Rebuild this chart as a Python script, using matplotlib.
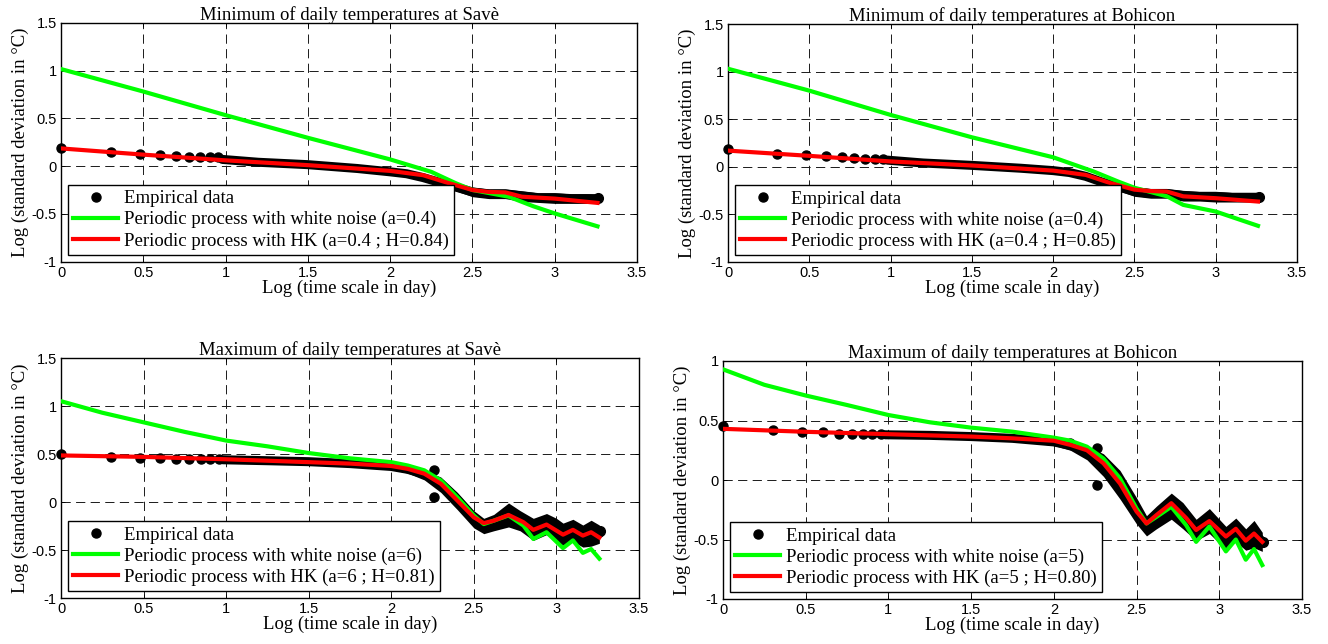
import matplotlib
matplotlib.use("Agg")
import matplotlib.pyplot as plt

plt.rcParams['axes.unicode_minus'] = False

# ---------------- data (x = log10 of time scale in days) ----------------
titles = ["Minimum of daily temperatures at Savè",
          "Minimum of daily temperatures at Bohicon",
          "Maximum of daily temperatures at Savè",
          "Maximum of daily temperatures at Bohicon"]
green_labels = ["Periodic process with white noise (a=0.4)",
                "Periodic process with white noise (a=0.4)",
                "Periodic process with white noise (a=6)",
                "Periodic process with white noise (a=5)"]
red_labels = ["Periodic process with HK (a=0.4 ; H=0.84)",
              "Periodic process with HK (a=0.4 ; H=0.85)",
              "Periodic process with HK (a=6 ; H=0.81)",
              "Periodic process with HK (a=5 ; H=0.80)"]

# sparse empirical points (first scales)
dots_x = [0, 0.301, 0.477, 0.602, 0.699, 0.778, 0.845, 0.903, 0.954]
dots_y_p1 = [0.19, 0.15, 0.13, 0.12, 0.11, 0.10, 0.10, 0.09, 0.09]
dots_y_p2 = [0.19, 0.135, 0.12, 0.11, 0.10, 0.09, 0.085, 0.08, 0.077]
dots_y_p3 = [0.495, 0.465, 0.455, 0.455, 0.45, 0.45, 0.45, 0.45, 0.45]
dots_y_p4 = [0.45, 0.42, 0.405, 0.40, 0.39, 0.39, 0.385, 0.383, 0.383]

# dense empirical band (min panels)
band_x_min = [0.98, 1.2, 1.5, 1.8, 2.0, 2.1, 2.2, 2.3, 2.4, 2.5, 2.6, 2.7, 2.8, 2.9, 3.0, 3.1, 3.2, 3.26]
band_c_p1 = [0.07, 0.04, 0.015, -0.025, -0.06, -0.08, -0.12, -0.17, -0.22, -0.27, -0.29, -0.29, -0.31, -0.33, -0.33, -0.34, -0.34, -0.34]
band_hi_p1 = [0.09, 0.06, 0.035, -0.005, -0.04, -0.05, -0.09, -0.14, -0.19, -0.22, -0.24, -0.24, -0.26, -0.28, -0.28, -0.29, -0.29, -0.30]
band_lo_p1 = [0.05, 0.02, -0.005, -0.045, -0.08, -0.11, -0.15, -0.20, -0.26, -0.32, -0.34, -0.34, -0.37, -0.38, -0.39, -0.39, -0.39, -0.39]
band_c_p2 = [0.07, 0.04, 0.015, -0.015, -0.04, -0.06, -0.10, -0.16, -0.21, -0.26, -0.28, -0.28, -0.30, -0.31, -0.31, -0.32, -0.32, -0.32]
band_hi_p2 = [0.09, 0.06, 0.035, 0.005, -0.02, -0.03, -0.07, -0.13, -0.18, -0.21, -0.23, -0.23, -0.25, -0.26, -0.26, -0.27, -0.27, -0.28]
band_lo_p2 = [0.05, 0.02, -0.005, -0.035, -0.06, -0.09, -0.13, -0.19, -0.25, -0.31, -0.33, -0.33, -0.36, -0.36, -0.37, -0.37, -0.37, -0.37]

# dense empirical band (max panels)
band_x_max = [0.98, 1.25, 1.5, 1.75, 2.0, 2.1, 2.2, 2.3, 2.4, 2.5, 2.56, 2.62, 2.71, 2.78, 2.86, 2.94, 3.0, 3.04, 3.1, 3.16, 3.21, 3.26]
band_c_p3 = [0.44, 0.43, 0.42, 0.40, 0.37, 0.34, 0.29, 0.19, 0.02, -0.17, -0.25, -0.22, -0.14, -0.20, -0.30, -0.24, -0.30, -0.35, -0.30, -0.36, -0.32, -0.33]
band_hi_p3 = [0.46, 0.45, 0.44, 0.43, 0.40, 0.37, 0.33, 0.26, 0.10, -0.09, -0.17, -0.13, -0.01, -0.09, -0.17, -0.12, -0.17, -0.22, -0.18, -0.24, -0.19, -0.24]
band_lo_p3 = [0.42, 0.41, 0.40, 0.38, 0.34, 0.30, 0.23, 0.10, -0.08, -0.27, -0.33, -0.30, -0.26, -0.30, -0.40, -0.34, -0.41, -0.45, -0.41, -0.47, -0.46, -0.43]
band_c_p4 = [0.38, 0.375, 0.365, 0.35, 0.32, 0.29, 0.24, 0.13, -0.04, -0.27, -0.38, -0.31, -0.20, -0.31, -0.43, -0.34, -0.43, -0.48, -0.40, -0.50, -0.44, -0.52]
band_hi_p4 = [0.40, 0.395, 0.385, 0.37, 0.345, 0.32, 0.29, 0.22, 0.08, -0.15, -0.30, -0.22, -0.11, -0.19, -0.33, -0.24, -0.33, -0.39, -0.32, -0.41, -0.34, -0.44]
band_lo_p4 = [0.36, 0.355, 0.345, 0.33, 0.29, 0.25, 0.17, 0.03, -0.16, -0.37, -0.47, -0.41, -0.33, -0.41, -0.51, -0.45, -0.53, -0.58, -0.52, -0.59, -0.57, -0.60]

# isolated empirical points
out_x_p3 = [2.26, 2.26]
out_y_p3 = [0.33, 0.055]
out_x_p4 = [2.1, 2.26, 2.26]
out_y_p4 = [0.31, 0.265, -0.04]
end_x = [3.265]
end_y_p1 = [-0.33]
end_y_p2 = [-0.32]
end_y_p3 = [-0.30]
end_y_p4 = [-0.52]

# white-noise model (green)
green_x_min1 = [0, 0.5, 1, 1.5, 2, 2.25, 2.4, 2.5, 2.72, 2.87, 3, 3.26]
green_y_p1 = [1.015, 0.78, 0.533, 0.296, 0.07, -0.06, -0.18, -0.25, -0.32, -0.42, -0.495, -0.63]
green_x_min2 = [0, 0.5, 1, 1.5, 2, 2.25, 2.4, 2.5, 2.7, 2.8, 3, 3.26]
green_y_p2 = [1.03, 0.80, 0.545, 0.31, 0.10, -0.05, -0.155, -0.22, -0.31, -0.40, -0.47, -0.62]
green_x_max = [0, 0.25, 0.5, 0.75, 1, 1.25, 1.5, 1.75, 2, 2.1, 2.2, 2.3, 2.4, 2.5, 2.56, 2.62, 2.71, 2.8, 2.86, 2.94, 3.04, 3.1, 3.16, 3.21, 3.26]
green_y_p3 = [1.05, 0.93, 0.83, 0.73, 0.64, 0.58, 0.51, 0.455, 0.415, 0.38, 0.33, 0.225, 0.05, -0.14, -0.23, -0.195, -0.14, -0.245, -0.385, -0.315, -0.48, -0.40, -0.53, -0.49, -0.59]
green_y_p4 = [0.93, 0.80, 0.71, 0.63, 0.546, 0.485, 0.44, 0.406, 0.356, 0.33, 0.28, 0.18, 0.014, -0.24, -0.365, -0.31, -0.225, -0.38, -0.52, -0.39, -0.60, -0.50, -0.67, -0.58, -0.715]

# HK model (red)
red_x_min = [0, 0.5, 1, 1.5, 2, 2.2, 2.35, 2.5, 2.6, 2.7, 2.8, 3, 3.26]
red_y_p1 = [0.185, 0.12, 0.06, 0.01, -0.05, -0.095, -0.175, -0.25, -0.27, -0.275, -0.32, -0.34, -0.385]
red_y_p2 = [0.17, 0.115, 0.056, 0.014, -0.04, -0.085, -0.17, -0.24, -0.255, -0.26, -0.31, -0.33, -0.365]
red_x_max = [0, 0.5, 1, 1.5, 1.75, 2, 2.1, 2.2, 2.3, 2.4, 2.5, 2.56, 2.62, 2.71, 2.8, 2.86, 2.94, 3.04, 3.1, 3.16, 3.21, 3.26]
red_y_p3 = [0.485, 0.47, 0.445, 0.415, 0.40, 0.375, 0.345, 0.295, 0.19, 0.015, -0.16, -0.22, -0.195, -0.135, -0.21, -0.29, -0.235, -0.34, -0.29, -0.35, -0.315, -0.37]
red_y_p4 = [0.43, 0.405, 0.385, 0.365, 0.35, 0.33, 0.295, 0.25, 0.14, -0.03, -0.265, -0.365, -0.295, -0.195, -0.32, -0.42, -0.345, -0.475, -0.41, -0.51, -0.45, -0.52]

x_ticks = [0, 0.5, 1, 1.5, 2, 2.5, 3, 3.5]
y_ticks_a = [-1, -0.5, 0, 0.5, 1, 1.5]
y_ticks_b = [-1, -0.5, 0, 0.5, 1]

panels = [
    dict(dots=dots_y_p1, bx=band_x_min, bc=band_c_p1, bh=band_hi_p1, bl=band_lo_p1,
         ox=[], oy=[], ey=end_y_p1, gx=green_x_min1, gy=green_y_p1, rx=red_x_min, ry=red_y_p1,
         yt=y_ticks_a, rect=[61, 22.7, 576, 239]),
    dict(dots=dots_y_p2, bx=band_x_min, bc=band_c_p2, bh=band_hi_p2, bl=band_lo_p2,
         ox=[], oy=[], ey=end_y_p2, gx=green_x_min2, gy=green_y_p2, rx=red_x_min, ry=red_y_p2,
         yt=y_ticks_a, rect=[728, 24, 569, 238]),
    dict(dots=dots_y_p3, bx=band_x_max, bc=band_c_p3, bh=band_hi_p3, bl=band_lo_p3,
         ox=out_x_p3, oy=out_y_p3, ey=end_y_p3, gx=green_x_max, gy=green_y_p3, rx=red_x_max, ry=red_y_p3,
         yt=y_ticks_a, rect=[61, 358, 578, 240]),
    dict(dots=dots_y_p4, bx=band_x_max, bc=band_c_p4, bh=band_hi_p4, bl=band_lo_p4,
         ox=out_x_p4, oy=out_y_p4, ey=end_y_p4, gx=green_x_max, gy=green_y_p4, rx=red_x_max, ry=red_y_p4,
         yt=y_ticks_b, rect=[723, 361, 579, 238]),
]

W, H = 1328, 644
fig = plt.figure(figsize=(W / 100, H / 100), dpi=100)
serif = 'Liberation Serif'
sans = 'Liberation Sans'
GREEN = '#00ff00'
RED = '#ff0000'
FS = 13.5

for i, p in enumerate(panels):
    l, t, w, h = p['rect']
    ax = fig.add_axes([l / W, 1 - (t + h) / H, w / W, h / H])
    # empirical
    ax.fill_between(p['bx'], p['bl'], p['bh'], color='k', lw=0, zorder=2)
    ax.plot(p['bx'], p['bc'], color='k', lw=6.5, solid_capstyle='round', zorder=2)
    emp, = ax.plot(dots_x, p['dots'], 'o', color='k', ms=6.5, zorder=2, clip_on=False,
                   label='Empirical data')
    if p['ox']:
        ax.plot(p['ox'], p['oy'], 'o', color='k', ms=6.5, zorder=2)
    ax.plot(end_x, p['ey'], 'o', color='k', ms=7, zorder=2)
    g, = ax.plot(p['gx'], p['gy'], color=GREEN, lw=3, zorder=3, label=green_labels[i])
    r, = ax.plot(p['rx'], p['ry'], color=RED, lw=3, zorder=4, label=red_labels[i])

    ax.set_xlim(0, 3.5)
    ax.set_ylim(p['yt'][0], p['yt'][-1])
    ax.set_xticks(x_ticks)
    ax.set_xticklabels([('%g' % v) for v in x_ticks], fontfamily=sans, fontsize=10.5)
    ax.set_yticks(p['yt'])
    ax.set_yticklabels([('%g' % v) for v in p['yt']], fontfamily=sans, fontsize=10.5)
    ax.tick_params(direction='in', length=3, width=0.6, pad=3, top=True, right=True)
    ax.grid(True, color='0.1', lw=0.7, linestyle=(0, (9.5, 5.5)))
    ax.set_axisbelow(True)
    for s in ax.spines.values():
        s.set_linewidth(1.0)
    ax.set_title(titles[i], fontfamily=serif, fontsize=FS, pad=2)
    ax.set_xlabel('Log (time scale in day)', fontfamily=serif, fontsize=FS, labelpad=0)
    ax.set_ylabel('Log (standard deviation in °C)', fontfamily=serif, fontsize=FS, labelpad=2)
    leg = ax.legend(handles=[emp, g, r], loc='lower left', prop={'family': serif, 'size': FS},
                    fancybox=False, framealpha=1, edgecolor='k', numpoints=1,
                    handlelength=2.4, handletextpad=0.3, labelspacing=0.2,
                    borderaxespad=0.35, borderpad=0.3)
    leg.get_frame().set_linewidth(1.0)
    leg.set_zorder(5)

fig.savefig('out.png', dpi=100)
